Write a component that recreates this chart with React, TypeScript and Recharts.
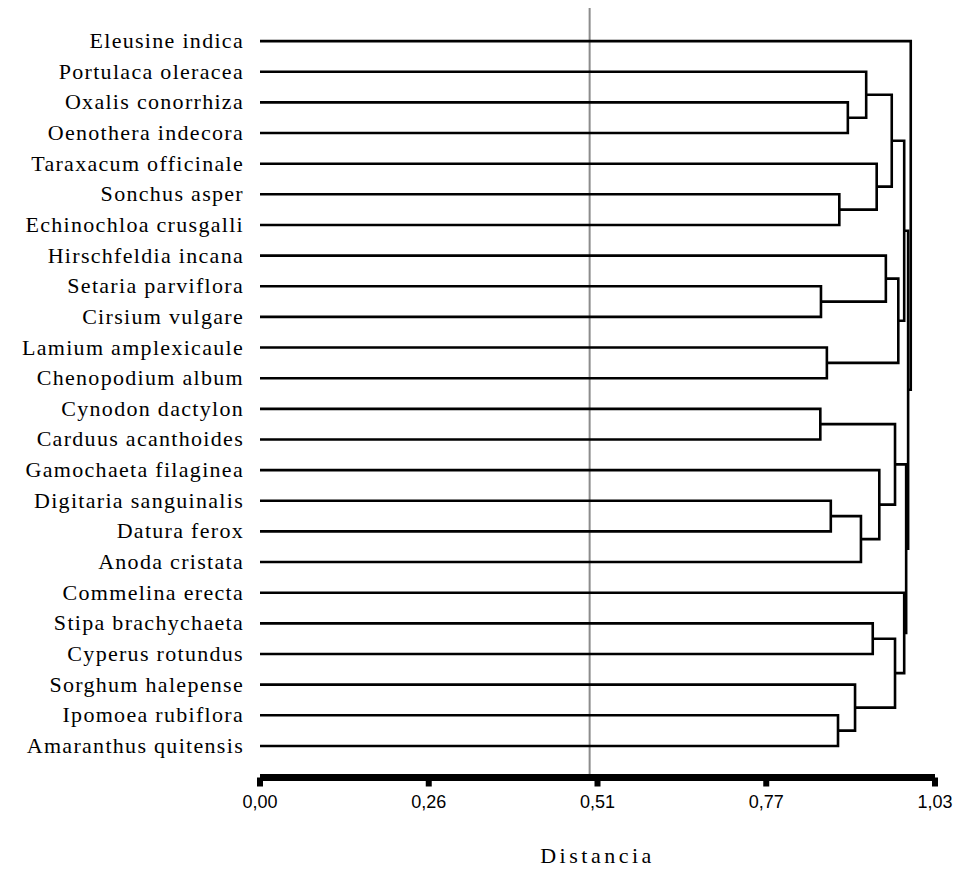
import { ComposedChart, Scatter, XAxis, YAxis, ReferenceLine } from "recharts"

const speciesNames = [
  "Eleusine indica",
  "Portulaca oleracea",
  "Oxalis conorrhiza",
  "Oenothera indecora",
  "Taraxacum officinale",
  "Sonchus asper",
  "Echinochloa crusgalli",
  "Hirschfeldia incana",
  "Setaria parviflora",
  "Cirsium vulgare",
  "Lamium amplexicaule",
  "Chenopodium album",
  "Cynodon dactylon",
  "Carduus acanthoides",
  "Gamochaeta filaginea",
  "Digitaria sanguinalis",
  "Datura ferox",
  "Anoda cristata",
  "Commelina erecta",
  "Stipa brachychaeta",
  "Cyperus rotundus",
  "Sorghum halepense",
  "Ipomoea rubiflora",
  "Amaranthus quitensis",
]

// linkage: ids < 24 are leaves, id 24+k is the cluster made by merge k
const mergeLeft = [2, 1, 5, 4, 25, 8, 7, 10, 30, 12, 15, 34, 14, 33, 19, 22, 21, 38, 18, 28, 37, 43, 0]
const mergeRight = [3, 24, 6, 26, 27, 9, 29, 11, 31, 13, 16, 17, 35, 36, 20, 23, 39, 40, 41, 32, 42, 44, 45]
const mergeHeight = [
  0.897, 0.925, 0.884, 0.941, 0.964, 0.856, 0.955, 0.865, 0.974, 0.855, 0.871, 0.917,
  0.945, 0.969, 0.935, 0.882, 0.908, 0.969, 0.983, 0.983, 0.986, 0.989, 0.993,
]

const xTicks = [0, 0.2575, 0.515, 0.7725, 1.03]
const xTickLabels = ["0,00", "0,26", "0,51", "0,77", "1,03"]
const cutoff = 0.503

const serif = "'Liberation Serif', 'Times New Roman', 'DejaVu Serif', serif"
const sans = "'Liberation Sans', Arial, sans-serif"

function buildLinks() {
  const pos = speciesNames.map((_, i) => ({ x: 0, y: i }))
  const links: { x: number; y: number }[][] = []
  mergeLeft.forEach((l, k) => {
    const a = pos[l]
    const b = pos[mergeRight[k]]
    const h = mergeHeight[k]
    links.push([
      { x: a.x, y: a.y },
      { x: h, y: a.y },
      { x: h, y: b.y },
      { x: b.x, y: b.y },
    ])
    pos.push({ x: h, y: (a.y + b.y) / 2 })
  })
  return links
}

const links = buildLinks()

function SpeciesTick(props: any) {
  const { x, y, payload } = props
  return (
    <text
      x={x}
      y={y}
      dy={7}
      textAnchor="end"
      style={{ fontFamily: serif, fontSize: 22, fill: "#000", letterSpacing: 1.3 }}
    >
      {speciesNames[payload.value]}
    </text>
  )
}

function DistTick(props: any) {
  const { x, y, index } = props
  return (
    <text
      x={x}
      y={y}
      dy={13}
      textAnchor="middle"
      style={{ fontFamily: sans, fontSize: 18, fill: "#000" }}
    >
      {xTickLabels[index]}
    </text>
  )
}

export default function App() {
  return (
    <ComposedChart
      width={945}
      height={863}
      margin={{ top: 0, right: 18, bottom: 0, left: 0 }}
    >
      <XAxis
        type="number"
        dataKey="x"
        domain={[0, 1.03]}
        ticks={xTicks}
        interval={0}
        axisLine={{ stroke: "#000", strokeWidth: 7 }}
        tickLine={{ stroke: "#000", strokeWidth: 6 }}
        tickSize={9}
        tickMargin={8}
        tick={<DistTick />}
        height={93.5}
        label={{
          value: "Distancia",
          position: "insideBottom",
          offset: 8,
          style: { fontSize: 22, fill: "#000", fontFamily: serif, letterSpacing: 3.5 },
        }}
      />
      <YAxis
        type="number"
        dataKey="y"
        domain={[-1.08, 24.03]}
        allowDataOverflow
        reversed
        ticks={speciesNames.map((_, i) => i)}
        interval={0}
        axisLine={false}
        tickLine={false}
        tickSize={0}
        tickMargin={16}
        width={252}
        tick={<SpeciesTick />}
      />
      <ReferenceLine x={cutoff} stroke="#8c8c8c" strokeWidth={2} />
      {links.map((pts, i) => (
        <Scatter
          key={i}
          data={pts}
          line={{ stroke: "#000", strokeWidth: 2.6 }}
          shape={() => <g />}
          isAnimationActive={false}
        />
      ))}
    </ComposedChart>
  )
}
